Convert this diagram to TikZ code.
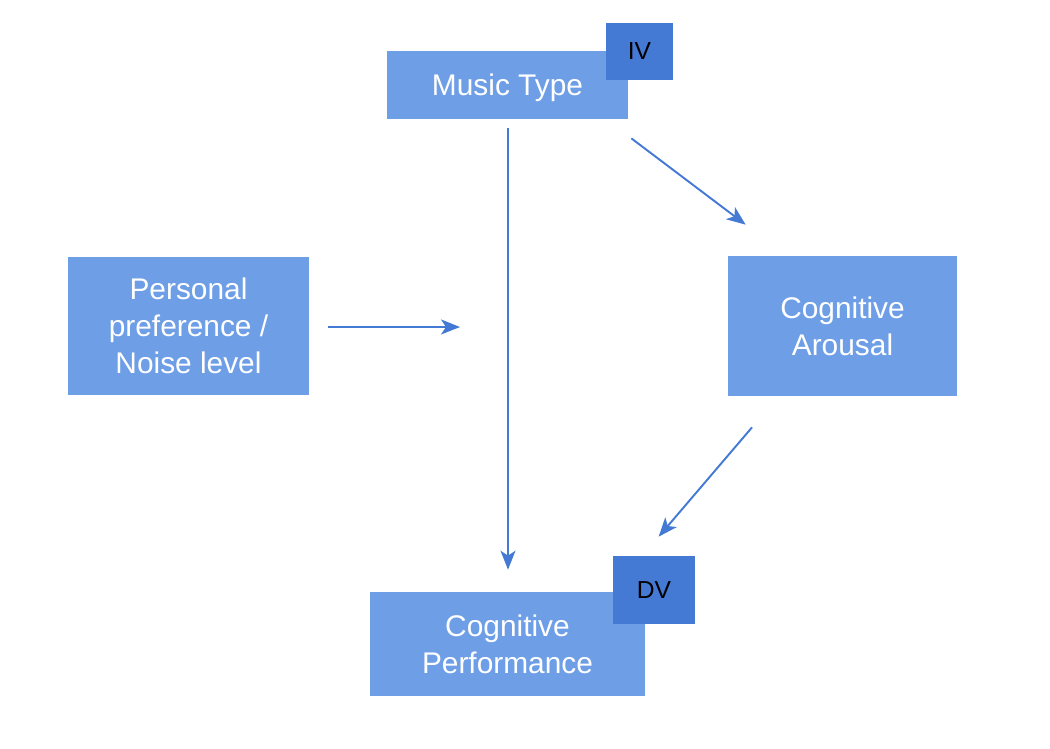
\documentclass[tikz,border=0pt]{standalone}
\usepackage{fontspec}
\setmainfont{Liberation Sans}
\usetikzlibrary{arrows.meta}
\definecolor{boxblue}{HTML}{6D9EE6}
\definecolor{tagblue}{HTML}{4479D4}
\begin{document}
\begin{tikzpicture}[x=0.02cm,y=-0.02cm,
    var/.style={fill=boxblue,text=white,align=center,inner sep=0pt,
        font=\fontsize{17}{21}\selectfont},
    tag/.style={fill=tagblue,text=black,inner sep=0pt,
        font=\fontsize{14}{17}\selectfont},
    arr/.style={draw=tagblue,line width=1.1pt,-{Stealth[length=0.38cm,width=0.3cm,inset=0.1cm]}}]
\useasboundingbox (0,0) rectangle (1050,748);
%the variables
\node[var,text depth=0pt,minimum width=4.82cm,minimum height=1.36cm] (music) at (507.5,85) {Music Type};
\node[tag,minimum width=1.34cm,minimum height=1.14cm] (iv) at (639.5,51.5) {IV};
\node[var,minimum width=4.82cm,minimum height=2.76cm] (pref) at (188.5,326)
    {Personal\\preference /\\Noise level};
\node[var,minimum width=4.58cm,minimum height=2.8cm] (arousal) at (842.5,326)
    {Cognitive\\Arousal};
\node[var,minimum width=5.5cm,minimum height=2.08cm] (perf) at (507.5,644)
    {Cognitive\\Performance};
\node[tag,minimum width=1.64cm,minimum height=1.36cm] (dv) at (654,590) {DV};
%free end of the moderator arrow
\coordinate (mod) at (460,327);
%connectors
\draw[arr] ([xshift=0.01cm,yshift=-0.18cm]music.south) -- ([xshift=0.01cm,yshift=0.44cm]perf.north);
\draw[arr] ([xshift=0.06cm,yshift=-0.38cm]music.south east) -- ([xshift=0.36cm,yshift=0.62cm]arousal.north west);
\draw[arr] (pref.east |- mod) ++(0.38cm,0) -- (mod);
\draw[arr] ([xshift=-1.81cm,yshift=-0.62cm]arousal.south) -- ([xshift=0.92cm,yshift=0.38cm]dv.north west);
\end{tikzpicture}
\end{document}
